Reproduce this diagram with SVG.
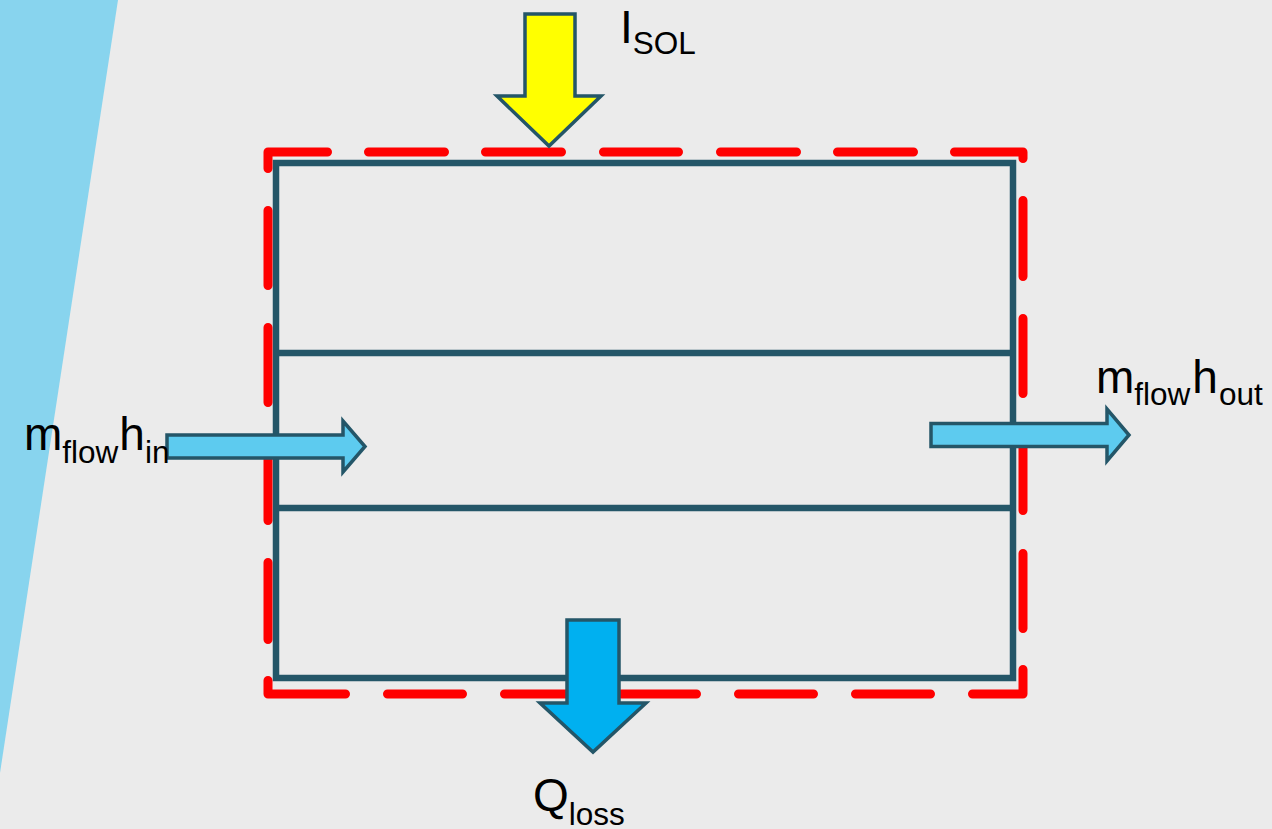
<svg xmlns="http://www.w3.org/2000/svg" width="1272" height="829" viewBox="0 0 1272 829">
  <style>
    .frame { fill: none; stroke: #245668; stroke-width: 6.5; }
    .boundary { fill: none; stroke: #FF0000; stroke-width: 9; stroke-linecap: round; stroke-linejoin: round; }
    .arrow { stroke: #245668; stroke-width: 3.5; stroke-linejoin: miter; }
    .lbl { font-family: "Liberation Sans", Arial, sans-serif; font-size: 46px; fill: #000000; }
    .sub { font-size: 31.5px; }
  </style>
  <rect x="0" y="0" width="1272" height="829" fill="#EBEBEB"/>
  <polygon points="0,0 118,0 0,773" fill="#88D4EE"/>

  <g id="collector">
    <rect class="frame" x="276" y="163" width="737" height="515"/>
    <line class="frame" x1="276" y1="353" x2="1013" y2="353"/>
    <line class="frame" x1="276" y1="508" x2="1013" y2="508"/>
  </g>

  <g id="control-volume">
    <path class="boundary" d="M268,152 H1023 V694 H268 Z" stroke-dasharray="59.5 41 76 41 76 42 75 42 76 41 76 41 75 42 76 42 75 42 75 43 75 41 75 42 75 42 75 42 75 42 75 42 75 42 91 41 77 42 75 43 75 42 75 42 16.5 0"/>
  </g>

  <g id="connectors">
    <polygon id="arrow-sol" class="arrow" fill="#FFFF00" points="525,14 575,14 575,96 601,96 549,146 497,96 525,96"/>
    <polygon id="arrow-loss" class="arrow" fill="#00B0F0" points="567,620 619,620 619,703 646,703 593,752 540,703 567,703"/>
    <polygon id="arrow-in" class="arrow" fill="#5DCBEF" points="167,435 343,435 343,421 365,446.5 343,472 343,458 167,458"/>
    <polygon id="arrow-out" class="arrow" fill="#5DCBEF" points="931,423.5 1107,423.5 1107,409 1129,435 1107,461 1107,446.5 931,446.5"/>
  </g>

  <g id="label-sol">
    <text class="lbl" x="620" y="43">I<tspan class="sub" y="54">SOL</tspan></text>
  </g>
  <g id="label-loss">
    <text class="lbl" x="533" y="811">Q<tspan class="sub" y="825">loss</tspan></text>
  </g>
  <g id="label-in">
    <text class="lbl" x="24" y="450">m<tspan class="sub" y="463">flow</tspan><tspan y="450" dx="1">h</tspan><tspan class="sub" y="463">in</tspan></text>
  </g>
  <g id="label-out">
    <text class="lbl" x="1096" y="393">m<tspan class="sub" y="405">flow</tspan><tspan y="393" dx="2">h</tspan><tspan class="sub" y="405" dx="1">out</tspan></text>
  </g>
</svg>
